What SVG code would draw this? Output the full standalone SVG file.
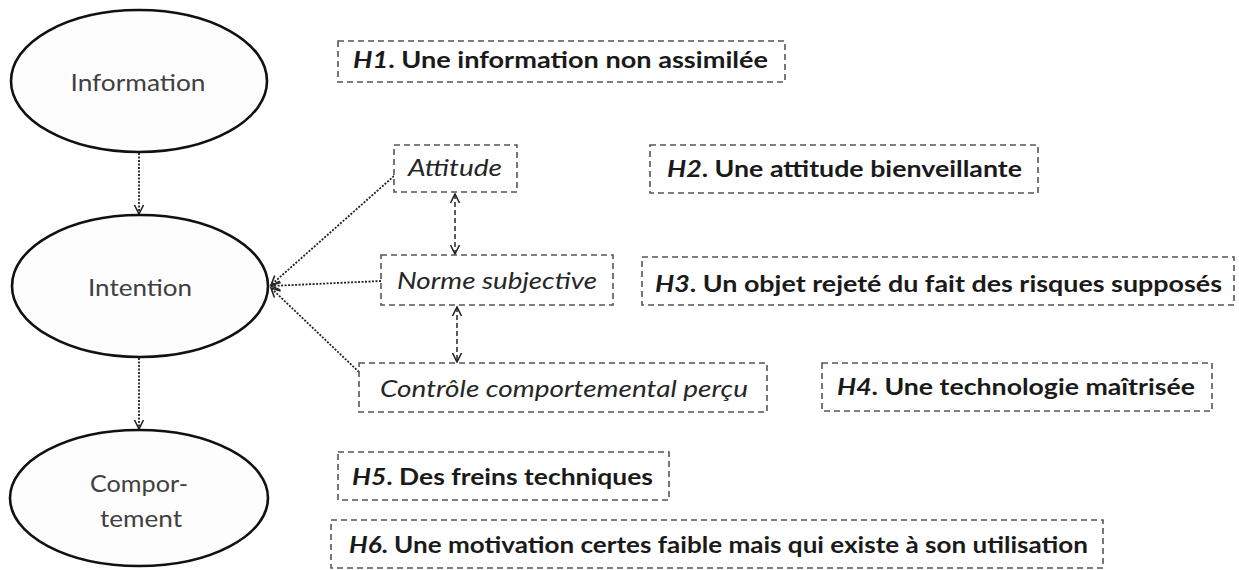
<svg xmlns="http://www.w3.org/2000/svg" width="1239" height="570" viewBox="0 0 1239 570">
<style>
.ell{fill:#fdfdfd;stroke:#111;stroke-width:2.6}
.box{fill:#fff;stroke:#555;stroke-width:1.6;stroke-dasharray:6 4}
.et{font-family:Lato,"Open Sans",sans-serif;font-size:23px;fill:#404040;text-anchor:middle}
.it{font-family:Lato,"Open Sans",sans-serif;font-size:23px;font-style:italic;fill:#262626}
.ht{font-family:Lato,"Open Sans",sans-serif;font-size:23px;font-weight:bold;fill:#1a1a1a}
.hi{font-style:italic}
.dot{fill:none;stroke:#222;stroke-width:1.8;stroke-dasharray:2 1.5}
.dash{fill:none;stroke:#333;stroke-width:1.6;stroke-dasharray:5 3}
</style>
<defs>
<marker id="ah" markerWidth="12" markerHeight="12" refX="10" refY="6" orient="auto-start-reverse" markerUnits="userSpaceOnUse">
<path d="M1,1.5 L10,6 L1,10.5" fill="none" stroke="#222" stroke-width="1.6"/>
</marker>
</defs>
<g id="connectors">
<line class="dot" x1="139" y1="153" x2="139" y2="214" marker-end="url(#ah)"/>
<line class="dot" x1="139" y1="358" x2="139" y2="429" marker-end="url(#ah)"/>
<line class="dot" x1="394" y1="176" x2="271" y2="285" marker-end="url(#ah)"/>
<line class="dot" x1="381" y1="281" x2="271" y2="286" marker-end="url(#ah)"/>
<line class="dot" x1="359" y1="372" x2="271" y2="288" marker-end="url(#ah)"/>
<line class="dash" x1="455" y1="194" x2="455" y2="254" marker-start="url(#ah)" marker-end="url(#ah)"/>
<line class="dash" x1="457" y1="307" x2="457" y2="362" marker-start="url(#ah)" marker-end="url(#ah)"/>
</g>
<g id="information">
<ellipse class="ell" cx="139" cy="81" rx="128" ry="71"/>
<text class="et" x="138" y="91" textLength="135" lengthAdjust="spacingAndGlyphs">Information</text>
</g>
<g id="intention">
<ellipse class="ell" cx="140" cy="286" rx="128" ry="71"/>
<text class="et" x="140" y="296" textLength="104" lengthAdjust="spacingAndGlyphs">Intention</text>
</g>
<g id="comportement">
<ellipse class="ell" cx="139" cy="498" rx="129" ry="68"/>
<text class="et" x="139" y="492" textLength="98" lengthAdjust="spacingAndGlyphs">Compor-</text>
<text class="et" x="141" y="527" textLength="82" lengthAdjust="spacingAndGlyphs">tement</text>
</g>
<g id="attitude">
<rect class="box" x="394" y="145" width="123" height="47"/>
<text class="it" x="408" y="176" textLength="94" lengthAdjust="spacingAndGlyphs">Attitude</text>
</g>
<g id="norme">
<rect class="box" x="381" y="255" width="232" height="50"/>
<text class="it" x="397" y="289" textLength="200" lengthAdjust="spacingAndGlyphs">Norme subjective</text>
</g>
<g id="controle">
<rect class="box" x="359" y="363" width="408" height="49"/>
<text class="it" x="380" y="397" textLength="368" lengthAdjust="spacingAndGlyphs">Contrôle comportemental perçu</text>
</g>
<g id="h1">
<rect class="box" x="338" y="41" width="447" height="41"/>
<text class="ht" x="353" y="68" textLength="415" lengthAdjust="spacingAndGlyphs"><tspan class="hi">H1</tspan>. Une information non assimilée</text>
</g>
<g id="h2">
<rect class="box" x="650" y="145" width="388" height="48"/>
<text class="ht" x="667" y="177" textLength="355" lengthAdjust="spacingAndGlyphs"><tspan class="hi">H2</tspan>. Une attitude bienveillante</text>
</g>
<g id="h3">
<rect class="box" x="642" y="257" width="592" height="48"/>
<text class="ht" x="655" y="292" textLength="567" lengthAdjust="spacingAndGlyphs"><tspan class="hi">H3</tspan>. Un objet rejeté du fait des risques supposés</text>
</g>
<g id="h4">
<rect class="box" x="822" y="363" width="390" height="48"/>
<text class="ht" x="837" y="395" textLength="358" lengthAdjust="spacingAndGlyphs"><tspan class="hi">H4</tspan>. Une technologie maîtrisée</text>
</g>
<g id="h5">
<rect class="box" x="338" y="452" width="331" height="48"/>
<text class="ht" x="352" y="485" textLength="301" lengthAdjust="spacingAndGlyphs"><tspan class="hi">H5</tspan>. Des freins techniques</text>
</g>
<g id="h6">
<rect class="box" x="331" y="520" width="772" height="48"/>
<text class="ht" x="349" y="553" textLength="739" lengthAdjust="spacingAndGlyphs"><tspan class="hi">H6</tspan>. Une motivation certes faible mais qui existe à son utilisation</text>
</g>
</svg>
